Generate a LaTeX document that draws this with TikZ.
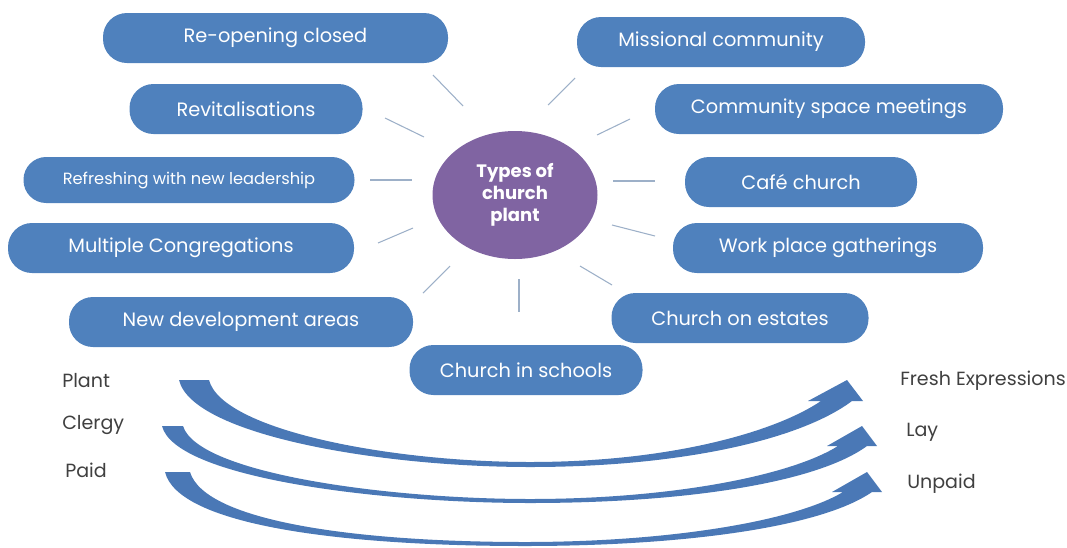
\documentclass[tikz,border=0pt]{standalone}
\usepackage{fontspec}
\setmainfont{Poppins}
\usepackage{tikz}
\usetikzlibrary{shapes.geometric}
\definecolor{plantblue}{HTML}{4F81BD}
\definecolor{hubpurple}{HTML}{8064A2}
\definecolor{spokegray}{HTML}{9DB0C8}
\definecolor{swoosh}{HTML}{4A78B6}
\definecolor{labelgray}{HTML}{404040}

\begin{document}
\begin{tikzpicture}[x=0.75pt,y=-0.75pt,
    kind/.style={rectangle,rounded corners=18pt,fill=plantblue,text=white,
      minimum height=37.5pt,inner sep=0pt,font=\fontsize{14.5}{16}\selectfont},
    hub/.style={ellipse,fill=hubpurple,text=white,align=center,inner sep=0pt,
      minimum width=123.75pt,minimum height=96pt,font=\bfseries\fontsize{13.5}{16.5}\selectfont},
    side/.style={anchor=west,text=labelgray,inner sep=0pt,font=\fontsize{14.3}{16}\selectfont},
    spoke/.style={draw=spokegray,line width=0.8pt}]
    \useasboundingbox (0,0) rectangle (1067,547);

    \node[hub] (hub) at (515,195) {Types of\\church\\plant};

    \node[kind,minimum width=258.75pt] (reopen) at (275.5,38) {Re-opening closed};
    \node[kind,minimum width=174.75pt] (revital) at (246,109) {Revitalisations};
    \node[kind,minimum width=248.25pt,minimum height=34.5pt,rounded corners=17pt,
      font=\fontsize{12.2}{14}\selectfont] (refresh) at (189,180) {Refreshing with new leadership};
    \node[kind,minimum width=259.5pt] (multiple) at (181,248) {Multiple Congregations};
    \node[kind,minimum width=258pt] (newdev) at (241,322) {New development areas};
    \node[kind,minimum width=174.75pt] (schools) at (526,370) {Church in schools};
    \node[kind,minimum width=216pt] (mission) at (721,42) {Missional community};
    \node[kind,minimum width=261pt] (space) at (829,109) {Community space meetings};
    \node[kind,minimum width=174pt] (cafe) at (801,182) {Café church};
    \node[kind,minimum width=232.5pt] (work) at (828,248) {Work place gatherings};
    \node[kind,minimum width=192.75pt] (estates) at (740,318) {Church on estates};

    \foreach \xa/\ya/\xb/\yb in {433/75/463/106, 575/78/548/105, 385/118/424/137,
        630/119/597/135, 370/180/412/180, 613/181/655/181, 378/243/413/228,
        612/225/655/236, 423/293/450/266, 519/279/519/312, 580/266/612/285}
      \draw[spoke] (\xa,\ya) -- (\xb,\yb);

    \node[side] (plant) at (62,381) {Plant};
    \node[side] (clergy) at (62,425) {Clergy};
    \node[side] (paid) at (65,470) {Paid};
    \node[side] (fresh) at (900,381) {Fresh Expressions};
    \node[side] (lay) at (906,432) {Lay};
    \node[side] (unpaid) at (907,484) {Unpaid};

    \fill[swoosh] (179,380) .. controls (192,435) and (380,467) .. (530,467)
      .. controls (680,467) and (800,440) .. (852,401) -- (863,401) -- (847,380)
      -- (808,401) -- (821,401) .. controls (775,432) and (670,462) .. (530,462)
      .. controls (390,462) and (222,430) .. (209,380) -- cycle;
    \fill[swoosh] (162,426) .. controls (175,478) and (380,503) .. (530,503)
      .. controls (680,503) and (815,484) .. (867,446) -- (877,446) -- (862,426)
      -- (827,446) -- (838,446) .. controls (790,476) and (670,499) .. (530,499)
      .. controls (390,499) and (198,474) .. (183,426) -- cycle;
    \fill[swoosh] (165,472) .. controls (178,525) and (340,546) .. (525,546)
      .. controls (680,546) and (820,528) .. (872,492) -- (882,492) -- (867,472)
      -- (832,492) -- (843,492) .. controls (795,521) and (670,542) .. (525,542)
      .. controls (360,542) and (205,522) .. (190,472) -- cycle;
\end{tikzpicture}
\end{document}
